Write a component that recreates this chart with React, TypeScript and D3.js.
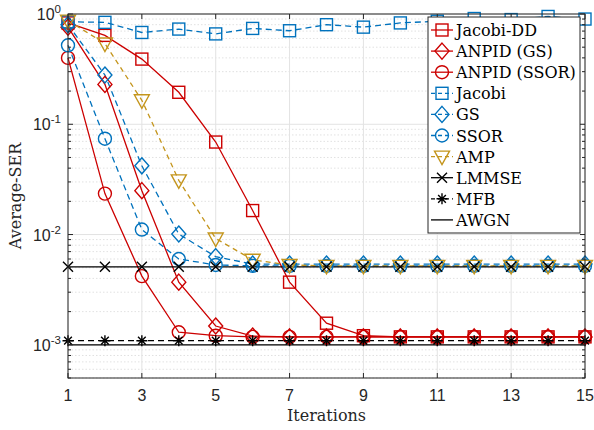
import React from 'react';
import * as d3 from 'd3';

const iterations = [1, 2, 3, 4, 5, 6, 7, 8, 9, 10, 11, 12, 13, 14, 15];

const jacobiDD = [0.83, 0.64, 0.39, 0.195, 0.069, 0.0165, 0.0037, 0.00157, 0.00121, 0.00118, 0.00118, 0.00118, 0.00118, 0.00118, 0.00118];
const anpidGS = [0.76, 0.23, 0.025, 0.0037, 0.00148, 0.0012, 0.00118, 0.00118, 0.00118, 0.00118, 0.00118, 0.00118, 0.00118, 0.00118, 0.00118];
const anpidSSOR = [0.4, 0.0235, 0.0042, 0.0013, 0.00121, 0.00118, 0.00118, 0.00118, 0.00118, 0.00118, 0.00118, 0.00118, 0.00118, 0.00118, 0.00118];
const jacobi = [0.85, 0.84, 0.68, 0.73, 0.66, 0.74, 0.705, 0.8, 0.76, 0.83, 0.86, 0.91, 0.89, 0.95, 0.9];
const gs = [0.8, 0.28, 0.042, 0.0101, 0.0063, 0.0054, 0.0054, 0.0054, 0.0054, 0.0054, 0.0054, 0.0054, 0.0054, 0.0054, 0.0054];
const ssor = [0.52, 0.074, 0.0111, 0.006, 0.0053, 0.0052, 0.0052, 0.0052, 0.0052, 0.0052, 0.0052, 0.0052, 0.0052, 0.0052, 0.0052];
const amp = [0.87, 0.54, 0.165, 0.031, 0.0092, 0.0059, 0.0053, 0.0052, 0.0052, 0.0052, 0.0052, 0.0052, 0.0052, 0.0052, 0.0052];
const lmmse = [0.0051, 0.0051, 0.0051, 0.0051, 0.0051, 0.0051, 0.0051, 0.0051, 0.0051, 0.0051, 0.0051, 0.0051, 0.0051, 0.0051, 0.0051];
const mfb = [0.00109, 0.00109, 0.00109, 0.00109, 0.00109, 0.00109, 0.00109, 0.00109, 0.00109, 0.00109, 0.00109, 0.00109, 0.00109, 0.00109, 0.00109];
const awgn = [0.001, 0.001, 0.001, 0.001, 0.001, 0.001, 0.001, 0.001, 0.001, 0.001, 0.001, 0.001, 0.001, 0.001, 0.001];

const xTicks = [1, 3, 5, 7, 9, 11, 13, 15];
const yTickExps = [0, -1, -2, -3];

const RED = '#cc0000';
const BLUE = '#0072bd';
const GOLD = '#c4951c';
const BLACK = '#000000';

type Series = { name: string; values: number[]; color: string; dash: string | null; marker: string };

const series: Series[] = [
  { name: 'Jacobi-DD', values: jacobiDD, color: RED, dash: null, marker: 'square' },
  { name: 'ANPID (GS)', values: anpidGS, color: RED, dash: null, marker: 'diamond' },
  { name: 'ANPID (SSOR)', values: anpidSSOR, color: RED, dash: null, marker: 'circle' },
  { name: 'Jacobi', values: jacobi, color: BLUE, dash: '6,4', marker: 'square' },
  { name: 'GS', values: gs, color: BLUE, dash: '6,4', marker: 'diamond' },
  { name: 'SSOR', values: ssor, color: BLUE, dash: '6,4', marker: 'circle' },
  { name: 'AMP', values: amp, color: GOLD, dash: '5,4', marker: 'triangle' },
  { name: 'LMMSE', values: lmmse, color: BLACK, dash: null, marker: 'x' },
  { name: 'MFB', values: mfb, color: BLACK, dash: '6,4', marker: 'star' },
  { name: 'AWGN', values: awgn, color: BLACK, dash: null, marker: 'none' },
];

const W = 594;
const H = 430;
const left = 68;
const right = 585;
const top = 14;
const bottom = 378;

function Marker({ type, x, y, color }: { type: string; x: number; y: number; color: string }) {
  const sw = 1.4;
  if (type === 'square') {
    return <rect x={x - 6} y={y - 6} width={12} height={12} fill="none" stroke={color} strokeWidth={sw} />;
  }
  if (type === 'circle') {
    return <circle cx={x} cy={y} r={6.5} fill="none" stroke={color} strokeWidth={sw} />;
  }
  if (type === 'diamond') {
    return <path d={`M${x},${y - 8}L${x + 7},${y}L${x},${y + 8}L${x - 7},${y}Z`} fill="none" stroke={color} strokeWidth={sw} />;
  }
  if (type === 'triangle') {
    return <path d={`M${x - 7.5},${y - 5.5}L${x + 7.5},${y - 5.5}L${x},${y + 8}Z`} fill="none" stroke={color} strokeWidth={sw} />;
  }
  if (type === 'x') {
    const s = 5;
    return <path d={`M${x - s},${y - s}L${x + s},${y + s}M${x - s},${y + s}L${x + s},${y - s}`} stroke={color} strokeWidth={sw} />;
  }
  if (type === 'star') {
    const s = 5.5;
    const d = s * 0.7;
    return (
      <path
        d={`M${x - s},${y}L${x + s},${y}M${x},${y - s}L${x},${y + s}M${x - d},${y - d}L${x + d},${y + d}M${x - d},${y + d}L${x + d},${y - d}`}
        stroke={color}
        strokeWidth={sw}
      />
    );
  }
  return null;
}

export default function App() {
  const x = d3.scaleLinear().domain([1, 15]).range([left, right]);
  const y = d3.scaleLog().domain([5e-4, 1]).range([bottom, top]);

  const line = d3
    .line<number>()
    .x((_, i) => x(iterations[i]))
    .y((d) => y(d));

  // minor log ticks
  const minor: number[] = [];
  for (let e = -4; e < 0; e++) {
    for (let k = 2; k <= 9; k++) {
      const v = k * Math.pow(10, e);
      if (v >= 5e-4 && v < 1) minor.push(v);
    }
  }

  const axisColor = '#262626';
  const tickFont = 'Liberation Sans, Arial, sans-serif';
  const serif = 'DejaVu Serif, serif';

  const legX = 428;
  const legY = 17;
  const legW = 152;
  const legH = 216;
  const rowH = 21.1;

  return (
    <svg width={W} height={H} style={{ position: 'absolute', left: 0, top: 0, background: '#fff' }}>
      <rect x={0} y={0} width={W} height={H} fill="#fff" />
      {/* grid */}
      {minor.map((v) => (
        <line key={'mg' + v} x1={left} x2={right} y1={y(v)} y2={y(v)} stroke="#d9d9d9" strokeWidth={0.8} strokeDasharray="1.5,2" />
      ))}
      {yTickExps.map((e) => (
        <line key={'yg' + e} x1={left} x2={right} y1={y(Math.pow(10, e))} y2={y(Math.pow(10, e))} stroke="#e3e3e3" strokeWidth={1} />
      ))}
      {xTicks.map((t) => (
        <line key={'xg' + t} x1={x(t)} x2={x(t)} y1={top} y2={bottom} stroke="#e3e3e3" strokeWidth={1} />
      ))}

      {/* series lines */}
      {series.map((s) => (
        <path key={'l' + s.name} d={line(s.values) || ''} fill="none" stroke={s.color} strokeWidth={1.3} strokeDasharray={s.dash || undefined} />
      ))}
      {series.map((s) =>
        s.values.map((v, i) => <Marker key={s.name + i} type={s.marker} x={x(iterations[i])} y={y(v)} color={s.color} />)
      )}

      {/* axes box */}
      <rect x={left} y={top} width={right - left} height={bottom - top} fill="none" stroke={axisColor} strokeWidth={1} />
      {xTicks.map((t) => (
        <g key={'xt' + t}>
          <line x1={x(t)} x2={x(t)} y1={bottom} y2={bottom - 5} stroke={axisColor} />
          <line x1={x(t)} x2={x(t)} y1={top} y2={top + 5} stroke={axisColor} />
          <text x={x(t)} y={bottom + 23} textAnchor="middle" fontFamily={tickFont} fontSize={16} fill={axisColor}>
            {t}
          </text>
        </g>
      ))}
      {yTickExps.map((e) => {
        const yy = y(Math.pow(10, e));
        return (
          <g key={'yt' + e}>
            <line x1={left} x2={left + 5} y1={yy} y2={yy} stroke={axisColor} />
            <line x1={right} x2={right - 5} y1={yy} y2={yy} stroke={axisColor} />
            <text x={left - 7} y={yy + 6} textAnchor="end" fontFamily={tickFont} fontSize={16} fill={axisColor}>
              <tspan>10</tspan>
              <tspan dy={-7} fontSize={11.5}>
                {e}
              </tspan>
            </text>
          </g>
        );
      })}
      {minor.map((v) => (
        <g key={'mt' + v}>
          <line x1={left} x2={left + 3} y1={y(v)} y2={y(v)} stroke={axisColor} />
          <line x1={right} x2={right - 3} y1={y(v)} y2={y(v)} stroke={axisColor} />
        </g>
      ))}

      {/* axis labels */}
      <text x={(left + right) / 2} y={421} textAnchor="middle" fontFamily={serif} fontSize={16} fill={axisColor}>
        Iterations
      </text>
      <text
        transform={`translate(21,${(top + bottom) / 2}) rotate(-90)`}
        textAnchor="middle"
        fontFamily={serif}
        fontSize={16}
        fill={axisColor}
      >
        Average-SER
      </text>

      {/* legend */}
      <rect x={legX} y={legY} width={legW} height={legH} fill="#fff" stroke={axisColor} strokeWidth={1} />
      {series.map((s, i) => {
        const ry = legY + 13 + i * rowH;
        return (
          <g key={'lg' + s.name}>
            <line x1={legX + 3} x2={legX + 25} y1={ry} y2={ry} stroke={s.color} strokeWidth={1.3} strokeDasharray={s.dash ? '4,3' : undefined} />
            <Marker type={s.marker} x={legX + 14} y={ry} color={s.color} />
            <text x={legX + 28} y={ry + 6} fontFamily={serif} fontSize={16} fill="#000">
              {s.name}
            </text>
          </g>
        );
      })}
    </svg>
  );
}
